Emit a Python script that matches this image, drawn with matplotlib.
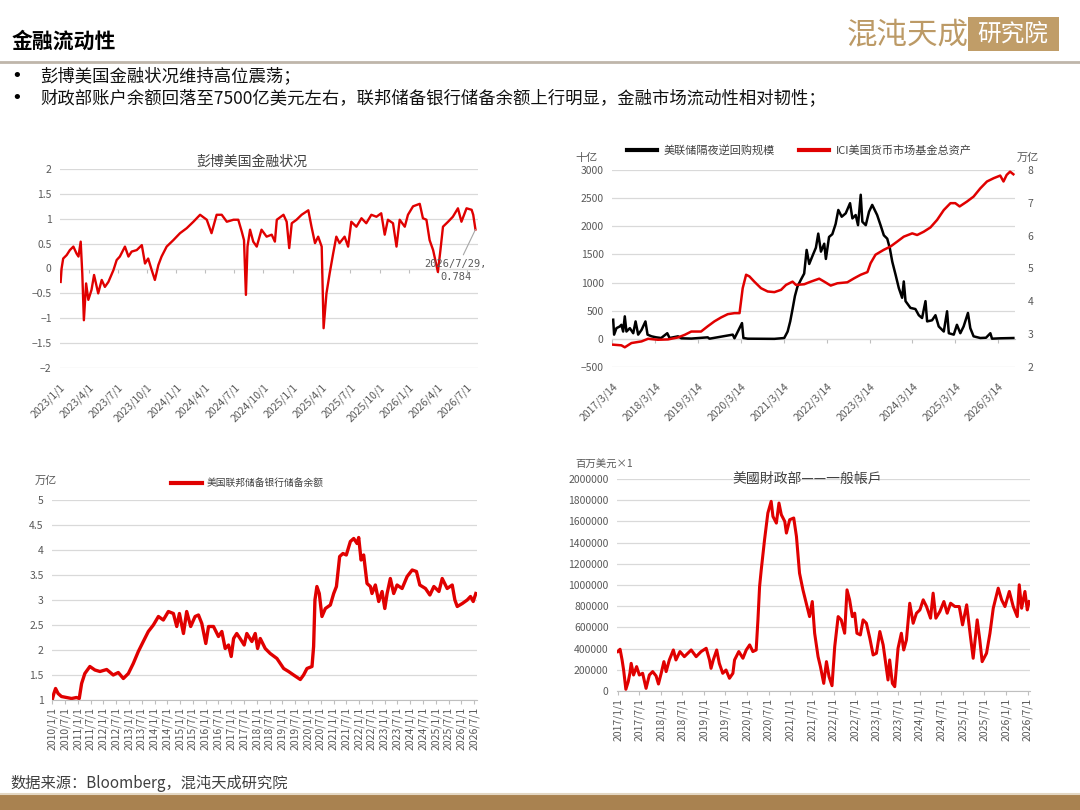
import numpy as np
import pandas as pd
import matplotlib as mpl
import matplotlib.pyplot as plt
import matplotlib.dates as mdates
from matplotlib.lines import Line2D
from matplotlib.patches import Rectangle
from matplotlib.ticker import FuncFormatter

mpl.rcParams['font.family'] = ['Noto Sans CJK SC', 'DejaVu Sans']

# ---- data ----
# 彭博美国金融状况
fci = [('2023-01-03', -0.27), ('2023-01-06', 0.0), ('2023-01-11', 0.2), ('2023-01-22', 0.27),
       ('2023-02-01', 0.37), ('2023-02-12', 0.44), ('2023-02-22', 0.3), ('2023-02-28', 0.24),
       ('2023-03-07', 0.54), ('2023-03-12', -0.1), ('2023-03-17', -1.04), ('2023-03-24', -0.3),
       ('2023-03-31', -0.63), ('2023-04-10', -0.43), ('2023-04-18', -0.13), ('2023-05-01', -0.5),
       ('2023-05-12', -0.23), ('2023-05-22', -0.37), ('2023-06-02', -0.27), ('2023-06-18', -0.03),
       ('2023-06-28', 0.17), ('2023-07-08', 0.24), ('2023-07-24', 0.44), ('2023-08-04', 0.24),
       ('2023-08-14', 0.34), ('2023-08-30', 0.37), ('2023-09-15', 0.47), ('2023-09-25', 0.1),
       ('2023-10-05', 0.2), ('2023-10-16', -0.03), ('2023-10-26', -0.23), ('2023-11-06', 0.07),
       ('2023-11-16', 0.24), ('2023-12-02', 0.44), ('2023-12-23', 0.57), ('2024-01-13', 0.71),
       ('2024-02-03', 0.81), ('2024-02-24', 0.94), ('2024-03-16', 1.08), ('2024-04-06', 0.98),
       ('2024-04-21', 0.71), ('2024-05-07', 1.08), ('2024-05-23', 1.08), ('2024-06-08', 0.94),
       ('2024-06-29', 0.98), ('2024-07-14', 0.98), ('2024-07-25', 0.74), ('2024-08-01', 0.57),
       ('2024-08-07', -0.53), ('2024-08-12', 0.44), ('2024-08-20', 0.78), ('2024-08-30', 0.54),
       ('2024-09-10', 0.44), ('2024-09-25', 0.78), ('2024-10-11', 0.64), ('2024-10-27', 0.68),
       ('2024-11-06', 0.54), ('2024-11-12', 0.98), ('2024-12-03', 1.08), ('2024-12-13', 0.94),
       ('2024-12-21', 0.41), ('2024-12-29', 0.91), ('2025-01-13', 0.98), ('2025-01-29', 1.08),
       ('2025-02-19', 1.17), ('2025-03-01', 0.84), ('2025-03-12', 0.51), ('2025-03-22', 0.64),
       ('2025-04-02', 0.44), ('2025-04-08', -1.2), ('2025-04-17', -0.5), ('2025-04-27', -0.1),
       ('2025-05-08', 0.3), ('2025-05-18', 0.64), ('2025-05-28', 0.51), ('2025-06-13', 0.64),
       ('2025-06-24', 0.44), ('2025-07-04', 0.94), ('2025-07-20', 0.84), ('2025-08-05', 1.01),
       ('2025-08-20', 0.91), ('2025-09-05', 1.08), ('2025-09-21', 1.04), ('2025-10-06', 1.11),
       ('2025-10-17', 0.68), ('2025-10-27', 0.98), ('2025-11-12', 0.91), ('2025-11-23', 0.44),
       ('2025-12-03', 0.98), ('2025-12-19', 0.84), ('2025-12-29', 1.08), ('2026-01-14', 1.25),
       ('2026-02-04', 1.3), ('2026-02-14', 1.01), ('2026-02-25', 0.98), ('2026-03-07', 0.57),
       ('2026-03-18', 0.37), ('2026-04-02', -0.07), ('2026-04-10', 0.37), ('2026-04-18', 0.84),
       ('2026-05-04', 0.94), ('2026-05-19', 1.04), ('2026-06-04', 1.21), ('2026-06-15', 0.94),
       ('2026-07-01', 1.21), ('2026-07-17', 1.18), ('2026-07-22', 1.08), ('2026-07-29', 0.784)]

# 美联储隔夜逆回购规模 (十亿)
rrp = [('2017-03-20', 340), ('2017-03-28', 75), ('2017-04-17', 190), ('2017-05-15', 220),
       ('2017-05-29', 250), ('2017-06-13', 130), ('2017-06-27', 400), ('2017-07-11', 130),
       ('2017-08-09', 190), ('2017-09-07', 100), ('2017-09-27', 310), ('2017-10-19', 75),
       ('2017-11-17', 160), ('2017-12-20', 310), ('2018-01-07', 75), ('2018-02-10', 45),
       ('2018-03-22', 27), ('2018-05-03', 15), ('2018-06-24', 100), ('2018-07-14', 15),
       ('2018-09-24', 45), ('2018-10-22', 10), ('2019-01-15', 5), ('2019-06-04', 27),
       ('2019-06-19', 3), ('2020-01-03', 75), ('2020-01-18', 10), ('2020-03-22', 280),
       ('2020-04-03', 15), ('2020-05-10', 3), ('2020-12-23', 0), ('2021-03-17', 15),
       ('2021-04-15', 130), ('2021-05-07', 310), ('2021-05-27', 530), ('2021-06-16', 760),
       ('2021-07-08', 930), ('2021-08-06', 1050), ('2021-09-03', 1160), ('2021-09-24', 1580),
       ('2021-10-16', 1330), ('2021-11-14', 1480), ('2021-12-12', 1620), ('2022-01-01', 1870),
       ('2022-01-24', 1550), ('2022-02-21', 1690), ('2022-03-07', 1420), ('2022-04-03', 1810),
       ('2022-05-01', 1860), ('2022-05-29', 2040), ('2022-06-21', 2290), ('2022-07-20', 2170),
       ('2022-08-23', 2230), ('2022-09-29', 2410), ('2022-10-19', 2140), ('2022-11-16', 2200),
       ('2022-12-06', 2020), ('2022-12-29', 2560), ('2023-01-12', 2080), ('2023-02-10', 2020),
       ('2023-03-10', 2260), ('2023-04-06', 2380), ('2023-05-18', 2200), ('2023-06-16', 2020),
       ('2023-07-14', 1840), ('2023-08-12', 1780), ('2023-09-03', 1610), ('2023-09-24', 1370),
       ('2023-10-22', 1140), ('2023-11-19', 900), ('2023-12-17', 730), ('2023-12-31', 1020),
       ('2024-01-15', 670), ('2024-02-26', 550), ('2024-04-08', 530), ('2024-05-07', 420),
       ('2024-06-04', 370), ('2024-07-03', 670), ('2024-07-17', 310), ('2024-08-28', 330),
       ('2024-09-26', 420), ('2024-10-24', 220), ('2024-12-06', 130), ('2025-01-03', 490),
       ('2025-01-18', 100), ('2025-03-01', 75), ('2025-03-28', 250), ('2025-04-26', 100),
       ('2025-05-24', 220), ('2025-06-30', 460), ('2025-07-20', 190), ('2025-08-17', 45),
       ('2025-10-13', 15), ('2025-12-01', 20), ('2026-01-07', 100), ('2026-01-21', 3),
       ('2026-04-01', 10), ('2026-07-22', 15)]

# ICI美国货币市场基金总资产 (万亿)
mmf = [('2017-03-20', 2.68), ('2017-05-29', 2.66), ('2017-06-27', 2.6), ('2017-08-23', 2.73),
       ('2017-11-17', 2.78), ('2018-01-12', 2.86), ('2018-04-05', 2.83), ('2018-06-30', 2.84),
       ('2018-09-24', 2.9), ('2018-11-20', 2.98), ('2019-01-15', 3.08), ('2019-04-08', 3.08),
       ('2019-06-04', 3.24), ('2019-07-31', 3.39), ('2019-09-26', 3.51), ('2019-11-22', 3.61),
       ('2020-01-18', 3.64), ('2020-03-01', 3.64), ('2020-03-28', 4.4), ('2020-04-26', 4.81),
       ('2020-05-24', 4.76), ('2020-07-05', 4.6), ('2020-08-31', 4.4), ('2020-10-27', 4.3),
       ('2020-12-23', 4.28), ('2021-02-18', 4.35), ('2021-04-01', 4.5), ('2021-05-27', 4.6),
       ('2021-06-25', 4.5), ('2021-09-03', 4.52), ('2021-10-30', 4.6), ('2022-01-09', 4.69),
       ('2022-02-21', 4.6), ('2022-04-17', 4.48), ('2022-06-13', 4.55), ('2022-09-06', 4.58),
       ('2022-11-02', 4.7), ('2022-12-29', 4.81), ('2023-02-24', 4.89), ('2023-03-23', 5.16),
       ('2023-05-04', 5.42), ('2023-07-14', 5.57), ('2023-09-09', 5.67), ('2023-11-05', 5.82),
       ('2023-12-31', 5.97), ('2024-03-12', 6.07), ('2024-04-23', 6.02), ('2024-06-18', 6.12),
       ('2024-08-14', 6.25), ('2024-10-10', 6.48), ('2024-12-06', 6.78), ('2025-02-01', 6.99),
       ('2025-03-14', 6.99), ('2025-04-20', 6.89), ('2025-06-22', 7.04), ('2025-08-17', 7.19),
       ('2025-10-13', 7.44), ('2025-12-09', 7.65), ('2026-02-04', 7.75), ('2026-04-01', 7.83),
       ('2026-04-29', 7.65), ('2026-05-26', 7.85), ('2026-06-24', 7.95), ('2026-07-22', 7.87)]

# 美国联邦储备银行储备余额 (万亿)
reserves = [('2010-01-05', 1.03), ('2010-01-24', 1.13), ('2010-02-17', 1.23), ('2010-03-25', 1.13),
            ('2010-05-12', 1.07), ('2010-07-23', 1.05), ('2010-10-03', 1.03), ('2010-12-14', 1.05),
            ('2011-01-21', 1.03), ('2011-02-24', 1.33), ('2011-04-11', 1.53), ('2011-06-22', 1.67),
            ('2011-09-02', 1.6), ('2011-11-13', 1.57), ('2012-02-17', 1.61), ('2012-05-21', 1.5),
            ('2012-08-01', 1.55), ('2012-10-12', 1.43), ('2012-12-23', 1.53), ('2013-03-03', 1.73),
            ('2013-05-14', 1.97), ('2013-07-24', 2.17), ('2013-10-04', 2.37), ('2013-12-15', 2.5),
            ('2014-02-25', 2.67), ('2014-05-06', 2.6), ('2014-07-17', 2.77), ('2014-09-27', 2.73),
            ('2014-11-14', 2.47), ('2014-12-22', 2.73), ('2015-02-18', 2.33), ('2015-04-05', 2.77),
            ('2015-06-01', 2.47), ('2015-08-03', 2.67), ('2015-09-20', 2.7), ('2015-11-07', 2.53),
            ('2016-01-03', 2.13), ('2016-02-11', 2.47), ('2016-04-22', 2.47), ('2016-07-02', 2.27),
            ('2016-08-19', 2.37), ('2016-10-06', 2.03), ('2016-11-23', 2.1), ('2016-12-31', 1.87),
            ('2017-02-03', 2.23), ('2017-03-20', 2.33), ('2017-05-07', 2.23), ('2017-07-04', 2.1),
            ('2017-08-11', 2.33), ('2017-10-22', 2.17), ('2017-12-09', 2.33), ('2018-01-12', 2.03),
            ('2018-02-19', 2.23), ('2018-05-01', 2.03), ('2018-07-11', 1.93), ('2018-10-15', 1.83),
            ('2019-01-19', 1.63), ('2019-03-30', 1.57), ('2019-06-10', 1.5), ('2019-09-14', 1.41),
            ('2019-10-31', 1.5), ('2019-12-18', 1.63), ('2020-02-28', 1.67), ('2020-03-22', 2.07),
            ('2020-04-10', 3.0), ('2020-05-08', 3.27), ('2020-06-11', 3.13), ('2020-07-19', 2.67),
            ('2020-09-06', 2.83), ('2020-11-16', 2.9), ('2021-01-03', 3.13), ('2021-02-11', 3.27),
            ('2021-03-29', 3.87), ('2021-05-15', 3.93), ('2021-07-02', 3.9), ('2021-08-29', 4.17),
            ('2021-10-16', 4.23), ('2021-12-03', 4.13), ('2021-12-26', 4.25), ('2022-01-29', 3.8),
            ('2022-03-07', 3.9), ('2022-04-24', 3.33), ('2022-06-11', 3.27), ('2022-07-04', 3.13),
            ('2022-08-21', 3.3), ('2022-10-08', 2.97), ('2022-11-25', 3.17), ('2023-01-03', 2.83),
            ('2023-02-05', 3.13), ('2023-03-23', 3.43), ('2023-05-10', 3.13), ('2023-06-27', 3.3),
            ('2023-09-07', 3.23), ('2023-11-18', 3.47), ('2024-01-29', 3.6), ('2024-03-30', 3.57),
            ('2024-05-17', 3.3), ('2024-08-06', 3.23), ('2024-10-08', 3.1), ('2024-12-04', 3.27),
            ('2025-02-14', 3.17), ('2025-04-02', 3.43), ('2025-06-12', 3.23), ('2025-08-23', 3.3),
            ('2025-09-30', 3.0), ('2025-11-03', 2.87), ('2026-01-14', 2.93), ('2026-03-25', 3.0),
            ('2026-05-11', 3.07), ('2026-06-19', 2.97), ('2026-07-26', 3.13)]

# 美國財政部——一般帳戶 (百万美元)
tga = [('2017-01-01', 372000), ('2017-01-20', 394000), ('2017-02-06', 293000), ('2017-02-19', 198000),
       ('2017-03-10', 16000), ('2017-03-30', 88000), ('2017-04-13', 167000), ('2017-04-24', 261000),
       ('2017-05-14', 151000), ('2017-06-09', 230000), ('2017-07-02', 151000), ('2017-07-30', 167000),
       ('2017-08-28', 25000), ('2017-09-25', 151000), ('2017-10-23', 183000), ('2017-11-21', 142000),
       ('2017-12-11', 66000), ('2018-01-03', 167000), ('2018-01-26', 277000), ('2018-02-14', 183000),
       ('2018-03-13', 293000), ('2018-04-16', 387000), ('2018-05-08', 293000), ('2018-06-11', 372000),
       ('2018-07-18', 324000), ('2018-09-14', 387000), ('2018-10-26', 324000), ('2018-12-07', 372000),
       ('2019-01-19', 403000), ('2019-02-16', 293000), ('2019-03-01', 214000), ('2019-03-20', 293000),
       ('2019-04-18', 387000), ('2019-05-10', 261000), ('2019-06-08', 167000), ('2019-07-06', 198000),
       ('2019-08-04', 120000), ('2019-09-02', 167000), ('2019-09-16', 293000), ('2019-10-22', 372000),
       ('2019-11-26', 309000), ('2019-12-24', 387000), ('2020-01-22', 435000), ('2020-02-18', 372000),
       ('2020-03-17', 387000), ('2020-04-01', 671000), ('2020-04-15', 986000), ('2020-04-29', 1143000),
       ('2020-05-27', 1427000), ('2020-06-24', 1679000), ('2020-07-22', 1789000), ('2020-08-06', 1647000),
       ('2020-09-04', 1584000), ('2020-09-26', 1773000), ('2020-10-16', 1663000), ('2020-11-14', 1600000),
       ('2020-11-28', 1490000), ('2020-12-26', 1616000), ('2021-01-29', 1632000), ('2021-02-21', 1458000),
       ('2021-03-19', 1112000), ('2021-04-17', 954000), ('2021-05-15', 828000), ('2021-06-12', 702000),
       ('2021-07-05', 844000), ('2021-07-25', 545000), ('2021-08-23', 324000), ('2021-09-12', 230000),
       ('2021-10-10', 72000), ('2021-11-02', 277000), ('2021-11-24', 135000), ('2021-12-19', 50000),
       ('2022-01-11', 419000), ('2022-02-09', 702000), ('2022-03-07', 671000), ('2022-04-05', 545000),
       ('2022-04-25', 954000), ('2022-05-17', 860000), ('2022-06-09', 702000), ('2022-06-29', 734000),
       ('2022-07-18', 545000), ('2022-08-16', 529000), ('2022-09-08', 671000), ('2022-10-06', 639000),
       ('2022-11-04', 498000), ('2022-12-02', 340000), ('2022-12-30', 356000), ('2023-01-28', 561000),
       ('2023-02-25', 435000), ('2023-04-07', 104000), ('2023-04-21', 293000), ('2023-05-14', 72000),
       ('2023-06-03', 41000), ('2023-07-01', 403000), ('2023-07-29', 545000), ('2023-08-18', 387000),
       ('2023-09-10', 482000), ('2023-10-08', 828000), ('2023-11-06', 639000), ('2023-12-04', 734000),
       ('2024-01-02', 765000), ('2024-01-30', 860000), ('2024-02-27', 797000), ('2024-04-01', 687000),
       ('2024-04-23', 923000), ('2024-05-16', 687000), ('2024-06-19', 750000), ('2024-07-23', 844000),
       ('2024-08-20', 734000), ('2024-09-18', 828000), ('2024-10-24', 797000), ('2024-11-30', 797000),
       ('2024-12-28', 624000), ('2025-02-01', 813000), ('2025-03-05', 513000), ('2025-03-28', 309000),
       ('2025-05-01', 671000), ('2025-05-23', 482000), ('2025-06-12', 277000), ('2025-07-19', 356000),
       ('2025-08-17', 545000), ('2025-09-14', 781000), ('2025-10-26', 970000), ('2025-11-24', 860000),
       ('2025-12-22', 797000), ('2026-01-28', 939000), ('2026-03-02', 797000), ('2026-04-05', 702000),
       ('2026-04-22', 1002000), ('2026-05-12', 781000), ('2026-06-09', 939000), ('2026-06-29', 765000),
       ('2026-07-15', 844000)]

RED = '#E00000'
GRID = '#D9D9D9'
TXT = '#595959'


def split(series):
    d, v = zip(*series)
    return pd.to_datetime(list(d)), np.array(v, dtype=float)


def dfmt(x, pos=None):
    d = mdates.num2date(x)
    return f'{d.year}/{d.month}/{d.day}'


def base_style(ax):
    ax.grid(axis='y', color=GRID, lw=0.9)
    ax.grid(axis='x', visible=False)
    ax.set_axisbelow(True)
    for s in ax.spines.values():
        s.set_visible(False)
    ax.tick_params(axis='y', length=0, labelsize=7.5, labelcolor=TXT, pad=6)
    ax.tick_params(axis='x', length=0, labelsize=7.5, labelcolor=TXT)
    ax.xaxis.set_major_formatter(FuncFormatter(dfmt))
    ax.yaxis.set_major_formatter(FuncFormatter(lambda x, p: f'{x:g}'.replace('-', '−')))


def zero_axis(ax, ticks, frac):
    sec = ax.secondary_xaxis(frac)
    sec.set_alignment('bottom')
    sec.set_xticks(mdates.date2num(ticks))
    sec.tick_params(length=3, color='#BFBFBF', labelbottom=False, labeltop=False)
    for s in sec.spines.values():
        s.set_color('#BFBFBF')


def slant(ax):
    for lab in ax.get_xticklabels():
        lab.set_rotation(45)
        lab.set_ha('right')
        lab.set_rotation_mode('anchor')


fig = plt.figure(figsize=(10.8, 8.1), dpi=100)


def fx(x):
    return x / 1080


def fy(y):
    return 1 - y / 810


# ---- header ----
fig.text(fx(12), fy(41), '金融流动性', fontsize=15, fontweight='bold', va='center')
fig.text(fx(847), fy(35), '混沌天成', fontsize=22, color='#BC9A66', va='center', fontweight='light')
fig.add_artist(Rectangle((fx(968), fy(51)), fx(91), 34 / 810, transform=fig.transFigure,
                         color='#C09D68', lw=0))
fig.text(fx(1013), fy(34), '研究院', fontsize=17, color='white', ha='center', va='center')
fig.add_artist(Line2D([0, 1], [fy(62), fy(62)], color='#BFB6AA', lw=2, transform=fig.transFigure))
bullets = ['彭博美国金融状况维持高位震荡；',
           '财政部账户余额回落至7500亿美元左右，联邦储备银行储备余额上行明显，金融市场流动性相对韧性；']
for i, b in enumerate(bullets):
    fig.text(fx(11), fy(76 + 22 * i), '•', fontsize=13, va='center', family='DejaVu Sans')
    fig.text(fx(40), fy(76 + 22 * i), b, fontsize=12.5, va='center', color='#111111')

# ---- footer ----
fig.text(fx(10), fy(783), '数据来源：Bloomberg，混沌天成研究院', fontsize=11, color='#404040', va='center')
fig.add_artist(Line2D([0, 1], [fy(794), fy(794)], color='#E3D7C3', lw=1.5, transform=fig.transFigure))
fig.add_artist(Rectangle((0, 0), 1, 15 / 810, transform=fig.transFigure, color='#A98250', lw=0))

# ---- chart 1: 彭博美国金融状况 ----
ax1 = fig.add_axes([fx(60), fy(368), 418 / 1080, 199 / 810])
d, v = split(fci)
ax1.plot(d, v, color=RED, lw=1.7)
ax1.set_ylim(-2, 2)
ax1.set_yticks([-2, -1.5, -1, -0.5, 0, 0.5, 1, 1.5, 2])
ax1.set_xlim(pd.Timestamp('2023-01-01'), pd.Timestamp('2026-08-06'))
base_style(ax1)
t1 = pd.date_range('2023-01-01', '2026-07-01', freq='QS')
ax1.set_xticks(t1)
ax1.tick_params(axis='x', pad=10)
slant(ax1)
zero_axis(ax1, t1, 0.5)
ax1.text(0.46, 1.035, '彭博美国金融状况', transform=ax1.transAxes, ha='center', va='center',
         fontsize=10, color='#404040')
ax1.annotate(f'{d[-1].year}/{d[-1].month}/{d[-1].day},\n{v[-1]:g}', xy=(d[-1], v[-1]),
             xytext=(0.947, 0.49), textcoords='axes fraction', ha='center', va='center',
             fontsize=7.5, color=TXT, family='DejaVu Sans Mono', linespacing=1.4,
             arrowprops=dict(arrowstyle='-', color='#A6A6A6', lw=0.8, shrinkA=1, shrinkB=0))

# ---- chart 2: 逆回购 & 货币基金 ----
ax2 = fig.add_axes([fx(612), fy(367), 403 / 1080, 197 / 810])
d, v = split(rrp)
l_rrp, = ax2.plot(d, v, color='black', lw=1.8, label='美联储隔夜逆回购规模')
ax2.set_ylim(-500, 3000)
ax2.set_yticks(range(-500, 3001, 500))
ax2.set_xlim(pd.Timestamp('2017-03-10'), pd.Timestamp('2026-08-05'))
base_style(ax2)
t2 = pd.to_datetime([f'{y}-03-14' for y in range(2017, 2027)])
ax2.set_xticks(t2)
ax2.tick_params(axis='x', pad=10)
slant(ax2)
zero_axis(ax2, t2, 500 / 3500)
tw = ax2.twinx()
d, v = split(mmf)
l_mmf, = tw.plot(d, v, color=RED, lw=1.8, label='ICI美国货币市场基金总资产')
tw.set_ylim(2, 8)
tw.set_yticks(range(2, 9))
for s in tw.spines.values():
    s.set_visible(False)
tw.tick_params(axis='y', length=0, labelsize=7.5, labelcolor=TXT, pad=9)
ax2.text(-0.092, 1.061, '十亿', transform=ax2.transAxes, fontsize=8, color=TXT, va='center')
ax2.text(1.005, 1.061, '万亿', transform=ax2.transAxes, fontsize=8, color=TXT, va='center')
ax2.legend(handles=[l_rrp, l_mmf], ncol=2, loc='center', bbox_to_anchor=(0.465, 1.1),
           frameon=False, fontsize=8, handlelength=2.7, columnspacing=2.2, handletextpad=0.6,
           labelcolor='#404040')
for h in ax2.get_legend().get_lines():
    h.set_linewidth(3)

# ---- chart 3: 储备余额 ----
ax3 = fig.add_axes([fx(52), fy(700), 425 / 1080, 200 / 810])
d, v = split(reserves)
l_res, = ax3.plot(d, v, color=RED, lw=2.4, label='美国联邦储备银行储备余额')
ax3.set_ylim(1, 5)
ax3.set_yticks([1, 1.5, 2, 2.5, 3, 3.5, 4, 4.5, 5])
ax3.set_xlim(pd.Timestamp('2009-12-28'), pd.Timestamp('2026-08-12'))
base_style(ax3)
ax3.spines['bottom'].set_visible(True)
ax3.spines['bottom'].set_color('#BFBFBF')
t3 = pd.date_range('2010-01-01', '2026-07-01', freq='6MS')
ax3.set_xticks(t3)
ax3.tick_params(axis='x', length=3, color='#BFBFBF', pad=2, rotation=90)
ax3.text(-0.04, 1.095, '万亿', transform=ax3.transAxes, fontsize=8, color=TXT, va='center')
ax3.legend(handles=[l_res], loc='center', bbox_to_anchor=(0.46, 1.085), frameon=False,
           fontsize=7, handlelength=3.2, handletextpad=0.5, labelcolor='#404040')
ax3.get_legend().get_lines()[0].set_linewidth(3)

# ---- chart 4: 一般账户 ----
ax4 = fig.add_axes([fx(617), fy(691), 413 / 1080, 212 / 810])
d, v = split(tga)
ax4.plot(d, v, color=RED, lw=2.2)
ax4.set_ylim(0, 2000000)
ax4.set_yticks(range(0, 2000001, 200000))
ax4.set_xlim(pd.Timestamp('2016-12-25'), pd.Timestamp('2026-07-22'))
base_style(ax4)
ax4.yaxis.set_major_formatter(FuncFormatter(lambda x, p: f'{int(x)}'))
ax4.spines['bottom'].set_visible(True)
ax4.spines['bottom'].set_color('#BFBFBF')
t4 = pd.date_range('2017-01-01', '2026-07-01', freq='6MS')
ax4.set_xticks(t4)
ax4.tick_params(axis='x', length=3, color='#BFBFBF', pad=2, rotation=90)
ax4.text(0.46, 1.0, '美國財政部——一般帳戶', transform=ax4.transAxes, ha='center', va='center',
         fontsize=10, color='#404040')
ax4.text(-0.10, 1.065, '百万美元×1', transform=ax4.transAxes, fontsize=7.5, color=TXT, va='center')

fig.savefig('out.png', dpi=100)
